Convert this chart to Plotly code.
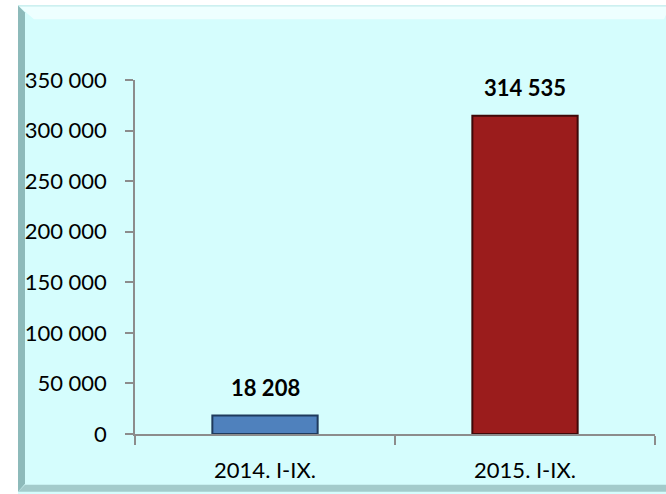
import plotly.graph_objects as go

categories = ["2014. I-IX.", "2015. I-IX."]
values = [18208, 314535]
bar_colors = ["#4F81BD", "#9B1C1C"]
line_colors = ["#1F3A5C", "#3F0808"]
y_ticks = [0, 50000, 100000, 150000, 200000, 250000, 300000, 350000]

W, H = 666, 494
L, R, T, B = 135, 11, 80, 58
PW, PH = W - L - R, H - T - B

def px(x):
    return (x - L) / PW

def py(y):
    return (H - B - y) / PH

fig = go.Figure()
fig.add_trace(go.Bar(
    x=categories, y=values,
    marker=dict(color=bar_colors, line=dict(color=line_colors, width=2)),
    width=0.405,
    hoverinfo="x+y",
))

annotations = [
    dict(x=c, y=v, xref="x", yref="y", text=f"{v:,}".replace(",", " "),
         showarrow=False, yanchor="middle", yshift=28,
         font=dict(family="Lato", size=22, color="black", weight="bold"))
    for c, v in zip(categories, values)
]

shapes = []
shapes.append(dict(type="rect", xref="paper", yref="paper", layer="below",
                   x0=px(18), x1=px(670), y0=py(498), y1=py(5),
                   fillcolor="#D5FDFD", line=dict(width=0)))
shapes.append(dict(type="path", xref="paper", yref="paper", layer="below",
                   path=f"M {px(18)},{py(5)} L {px(670)},{py(5)} L {px(664)},{py(19)} L {px(34)},{py(19)} Z",
                   fillcolor="#EEFFFF", line=dict(width=0)))
shapes.append(dict(type="line", xref="paper", yref="paper", layer="below",
                   x0=px(18), x1=px(670), y0=py(5.5), y1=py(5.5),
                   line=dict(color="#B8E6E6", width=1)))
shapes.append(dict(type="path", xref="paper", yref="paper", layer="below",
                   path=f"M {px(18)},{py(5)} L {px(25)},{py(12)} L {px(25)},{py(486)} L {px(18)},{py(494)} Z",
                   fillcolor="#8DBABA", line=dict(width=0)))
shapes.append(dict(type="path", xref="paper", yref="paper", layer="below",
                   path=f"M {px(18)},{py(494)} L {px(25)},{py(487)} L {px(666)},{py(487)} L {px(666)},{py(494)} Z",
                   fillcolor="#A3CBCB", line=dict(width=0)))

fig.update_layout(
    width=W, height=H,
    margin=dict(l=L, r=R, t=T, b=B),
    paper_bgcolor="white", plot_bgcolor="rgba(0,0,0,0)",
    separators=". ",
    showlegend=False,
    shapes=shapes,
    annotations=annotations,
    font=dict(family="Lato", size=22, color="black"),
    xaxis=dict(showline=True, linecolor="#8C8C8C", linewidth=1.5,
               ticks="outside", tickson="boundaries", ticklen=9,
               tickcolor="#8C8C8C", tickwidth=1.5,
               ticklabelstandoff=16, showgrid=False),
    yaxis=dict(range=[0, 350000], tickvals=y_ticks, tickformat=",d",
               showline=True, linecolor="#8C8C8C", linewidth=1.5,
               ticks="outside", ticklen=8, tickcolor="#8C8C8C", tickwidth=1.5,
               ticklabelstandoff=14, showgrid=False, zeroline=False),
)
fig.write_html("out.html", config={"displayModeBar": False},
               post_script="document.body.style.margin='0';document.body.style.overflow='hidden';")
